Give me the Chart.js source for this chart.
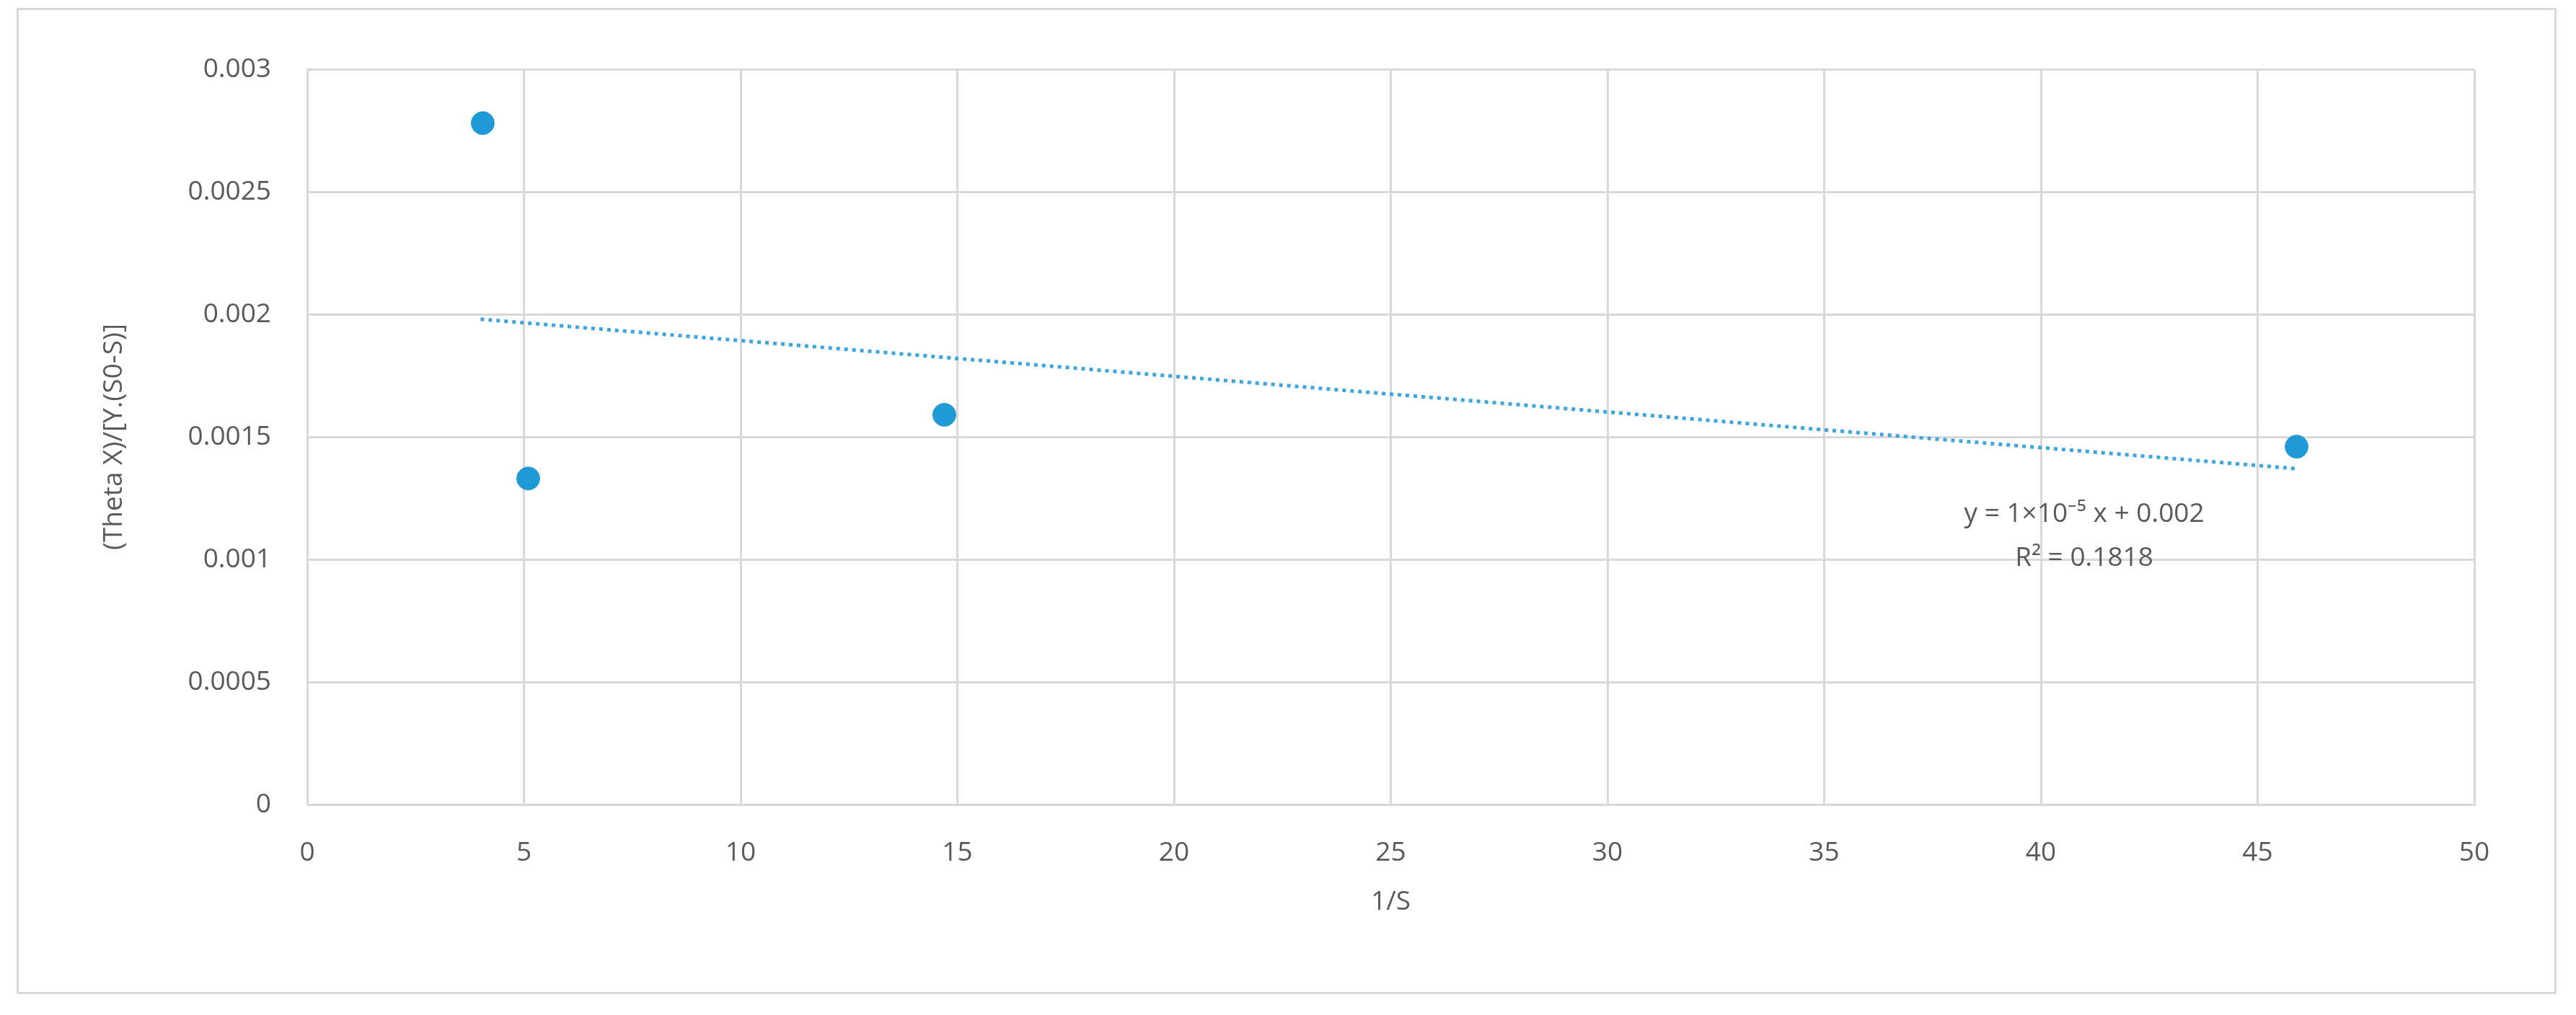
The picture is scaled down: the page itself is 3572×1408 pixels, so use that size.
<!DOCTYPE html>
<html>
<head>
<meta charset="utf-8">
<script src="https://cdn.jsdelivr.net/npm/chart.js@4"></script>
<style>
html, body { margin: 0; padding: 0; background: #fff; }
#frame { position: absolute; left: 23px; top: 11px; width: 3516px; height: 1362px; border: 3px solid #d9d9d9; }
#wrap { position: absolute; left: 0; top: 0; width: 3572px; height: 1408px; }
</style>
</head>
<body>
<div id="frame"></div>
<div id="wrap"><canvas id="chart-area"></canvas></div>
<script>
var xValues = [4.05, 5.1, 14.7, 45.9];
var yValues = [0.00278, 0.00133, 0.00159, 0.00146];
var trendX = [4.0, 45.9];
var trendY = [0.00198, 0.00137];
var xTicks = [0, 5, 10, 15, 20, 25, 30, 35, 40, 45, 50];
var yTicks = [0, 0.0005, 0.001, 0.0015, 0.002, 0.0025, 0.003];
var eqLines = ['y = 1\u00d710\u207b\u2075 x + 0.002', 'R\u00b2 = 0.1818'];

var grey = '#595959';
var font = { family: '"Open Sans", sans-serif', size: 37 };

var labelPlugin = {
	id: 'eq',
	afterDatasetsDraw: function (chart) {
		var c = chart.ctx, xs = chart.scales.x, ys = chart.scales.y;
		c.save();
		c.fillStyle = grey;
		c.font = '37px ' + font.family;
		c.textAlign = 'center';
		c.textBaseline = 'middle';
		c.fillText(eqLines[0], xs.getPixelForValue(41.0), ys.getPixelForValue(0.001185));
		c.fillText(eqLines[1], xs.getPixelForValue(41.0), ys.getPixelForValue(0.001004));
		c.restore();
	}
};

var myChart = new Chart(document.getElementById('chart-area'), {
	type: 'scatter',
	data: {
		datasets: [{
			data: xValues.map(function (x, i) { return { x: x, y: yValues[i] }; }),
			backgroundColor: '#1f9ad6',
			borderColor: '#1f9ad6',
			pointRadius: 16,
			pointHoverRadius: 16
		}, {
			type: 'line',
			data: trendX.map(function (x, i) { return { x: x, y: trendY[i] }; }),
			borderColor: '#3da5e0',
			borderWidth: 5,
			borderDash: [5, 6],
			pointRadius: 0,
			fill: false
		}]
	},
	plugins: [labelPlugin],
	options: {
		responsive: true,
		maintainAspectRatio: false,
		animation: false,
		layout: { padding: { left: 0, right: 141, top: 96, bottom: 0 } },
		plugins: { legend: { display: false }, tooltip: { enabled: false } },
		scales: {
			x: {
				type: 'linear', min: 0, max: 50,
				afterFit: function (s) { s.height = 292; },
				afterBuildTicks: function (s) { s.ticks = xTicks.map(function (v) { return { value: v }; }); },
				grid: { color: '#d9d9d9', lineWidth: 3, drawTicks: false },
				border: { color: '#d9d9d9', width: 3 },
				ticks: { color: grey, font: font, padding: 45, maxRotation: 0 },
				title: { display: true, text: '1/S', color: grey, font: font, padding: { top: 134, bottom: 134 } }
			},
			y: {
				type: 'linear', min: 0, max: 0.003,
				afterFit: function (s) { s.width = 426; },
				afterBuildTicks: function (s) { s.ticks = yTicks.map(function (v) { return { value: v }; }); },
				grid: { color: '#d9d9d9', lineWidth: 3, drawTicks: false },
				border: { color: '#d9d9d9', width: 3 },
				ticks: { color: grey, font: font, padding: 50, callback: function (v) { return String(v); } },
				title: { display: true, text: '(Theta X)/[Y.(S0-S)]', color: grey, font: font, padding: { top: 136, bottom: 136 } }
			}
		}
	}
});
</script>
</body>
</html>
